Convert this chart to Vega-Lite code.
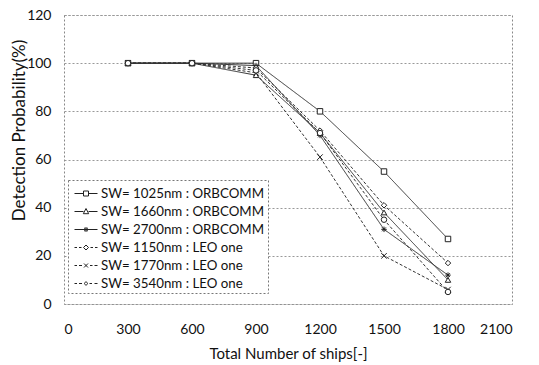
{
  "$schema": "https://vega.github.io/schema/vega-lite/v6.json",
  "width": 448,
  "height": 289,
  "autosize": {"type": "none"},
  "padding": {"left": 64, "top": 15, "right": 27, "bottom": 61},
  "background": "white",
  "config": {
    "font": "Lato",
    "view": {"stroke": "#888", "strokeDash": [2, 2], "strokeWidth": 1},
    "axis": {"labelFont": "Lato", "titleFont": "Lato", "labelFontSize": 14, "titleFontSize": 15, "titleFontWeight": "normal", "labelColor": "#111", "titleColor": "#111"},
    "legend": {"strokeDash": [2, 2], "strokeColor": "#777", "fillColor": "white"}
  },
  "data": {
    "values": [
      {"n": 300, "series": "SW= 1025nm : ORBCOMM", "p": 100},
      {"n": 600, "series": "SW= 1025nm : ORBCOMM", "p": 100},
      {"n": 900, "series": "SW= 1025nm : ORBCOMM", "p": 100},
      {"n": 1200, "series": "SW= 1025nm : ORBCOMM", "p": 80},
      {"n": 1500, "series": "SW= 1025nm : ORBCOMM", "p": 55},
      {"n": 1800, "series": "SW= 1025nm : ORBCOMM", "p": 27},
      {"n": 300, "series": "SW= 1660nm : ORBCOMM", "p": 100},
      {"n": 600, "series": "SW= 1660nm : ORBCOMM", "p": 100},
      {"n": 900, "series": "SW= 1660nm : ORBCOMM", "p": 95},
      {"n": 1200, "series": "SW= 1660nm : ORBCOMM", "p": 71},
      {"n": 1500, "series": "SW= 1660nm : ORBCOMM", "p": 38},
      {"n": 1800, "series": "SW= 1660nm : ORBCOMM", "p": 10},
      {"n": 300, "series": "SW= 2700nm : ORBCOMM", "p": 100},
      {"n": 600, "series": "SW= 2700nm : ORBCOMM", "p": 100},
      {"n": 900, "series": "SW= 2700nm : ORBCOMM", "p": 99},
      {"n": 1200, "series": "SW= 2700nm : ORBCOMM", "p": 70},
      {"n": 1500, "series": "SW= 2700nm : ORBCOMM", "p": 31},
      {"n": 1800, "series": "SW= 2700nm : ORBCOMM", "p": 12},
      {"n": 300, "series": "SW= 1150nm : LEO one", "p": 100},
      {"n": 600, "series": "SW= 1150nm : LEO one", "p": 100},
      {"n": 900, "series": "SW= 1150nm : LEO one", "p": 98},
      {"n": 1200, "series": "SW= 1150nm : LEO one", "p": 72},
      {"n": 1500, "series": "SW= 1150nm : LEO one", "p": 41},
      {"n": 1800, "series": "SW= 1150nm : LEO one", "p": 17},
      {"n": 300, "series": "SW= 1770nm : LEO one", "p": 100},
      {"n": 600, "series": "SW= 1770nm : LEO one", "p": 100},
      {"n": 900, "series": "SW= 1770nm : LEO one", "p": 96},
      {"n": 1200, "series": "SW= 1770nm : LEO one", "p": 61},
      {"n": 1500, "series": "SW= 1770nm : LEO one", "p": 20},
      {"n": 1800, "series": "SW= 1770nm : LEO one", "p": 6},
      {"n": 300, "series": "SW= 3540nm : LEO one", "p": 100},
      {"n": 600, "series": "SW= 3540nm : LEO one", "p": 100},
      {"n": 900, "series": "SW= 3540nm : LEO one", "p": 97},
      {"n": 1200, "series": "SW= 3540nm : LEO one", "p": 71},
      {"n": 1500, "series": "SW= 3540nm : LEO one", "p": 35},
      {"n": 1800, "series": "SW= 3540nm : LEO one", "p": 5}
    ]
  },
  "encoding": {
    "x": {
      "field": "n", "type": "quantitative",
      "scale": {"domain": [0, 2100], "nice": false},
      "axis": {"values": [0, 300, 600, 900, 1200, 1500, 1800, 2100], "format": "d", "grid": false, "ticks": false, "domain": false, "labelPadding": 18, "title": "Total Number of ships[-]", "titlePadding": 10}
    },
    "y": {
      "field": "p", "type": "quantitative",
      "scale": {"domain": [0, 120], "nice": false},
      "axis": {"values": [0, 20, 40, 60, 80, 100, 120], "grid": true, "gridDash": [2, 2], "gridColor": "#999", "ticks": false, "domain": false, "labelPadding": 13, "title": "Detection Probability(%)", "titleFontSize": 17, "titleBaseline": "middle", "titleX": -45, "titleY": 115}
    }
  },
  "layer": [
    {
      "mark": {"type": "line", "color": "#333", "strokeWidth": 1},
      "encoding": {
        "detail": {"field": "series"},
        "strokeDash": {
          "field": "series", "type": "nominal",
          "scale": {
            "domain": ["SW= 1025nm : ORBCOMM", "SW= 1660nm : ORBCOMM", "SW= 2700nm : ORBCOMM", "SW= 1150nm : LEO one", "SW= 1770nm : LEO one", "SW= 3540nm : LEO one"],
            "range": [[1, 0], [1, 0], [1, 0], [3, 2], [3, 2], [3, 2]]
          },
          "legend": null
        }
      }
    },
    {
      "mark": {"type": "point", "filled": true, "fill": "white", "stroke": "#222", "strokeWidth": 1, "size": 30, "opacity": 1},
      "encoding": {
        "shape": {
          "field": "series", "type": "nominal",
          "scale": {
            "domain": ["SW= 1025nm : ORBCOMM", "SW= 1660nm : ORBCOMM", "SW= 2700nm : ORBCOMM", "SW= 1150nm : LEO one", "SW= 1770nm : LEO one", "SW= 3540nm : LEO one"],
            "range": ["square", "triangle-up", "M-1,0H1M0,-1V1M-0.7,-0.7L0.7,0.7M-0.7,0.7L0.7,-0.7", "diamond", "M-1,-1L1,1M-1,1L1,-1", "circle"]
          },
          "legend": null
        }
      }
    },
    {
      "mark": {"type": "point", "opacity": 0},
      "encoding": {
        "shape": {
          "field": "series", "type": "nominal",
          "scale": {
            "domain": ["SW= 1025nm : ORBCOMM", "SW= 1660nm : ORBCOMM", "SW= 2700nm : ORBCOMM", "SW= 1150nm : LEO one", "SW= 1770nm : LEO one", "SW= 3540nm : LEO one"],
            "range": [
              "M-0.7,0H0.2M0.7,0H1.6M0.2,-0.25H0.7V0.25H0.2Z",
              "M-0.7,0H0.2M0.7,0H1.6M0.45,-0.3L0.72,0.22H0.18Z",
              "M-0.7,0H1.6M0.45,-0.25V0.25M0.25,-0.17L0.65,0.17M0.25,0.17L0.65,-0.17",
              "M-0.7,0H-0.45M-0.25,0H0M0.2,0L0.45,-0.25L0.7,0L0.45,0.25ZM0.9,0H1.15M1.35,0H1.6",
              "M-0.7,0H-0.45M-0.25,0H0.05M0.25,-0.2L0.65,0.2M0.25,0.2L0.65,-0.2M0.85,0H1.1M1.3,0H1.6",
              "M-0.7,0H-0.45M-0.25,0H0.05M0.3,0A0.15,0.15,0,1,0,0.6,0A0.15,0.15,0,1,0,0.3,0ZM0.8,0H1.05M1.3,0H1.6"
            ]
          },
          "legend": {
            "title": null, "orient": "none", "legendX": 4, "legendY": 165,
            "padding": 3, "symbolSize": 400, "symbolStrokeColor": "#222", "symbolFillColor": "white",
            "symbolStrokeWidth": 1, "symbolOpacity": 1, "labelFont": "Lato", "labelFontSize": 13.3,
            "labelOffset": 9, "rowPadding": 1, "labelColor": "#111", "labelLimit": 250
          }
        }
      }
    }
  ],
  "resolve": {"scale": {"shape": "independent"}}
}
